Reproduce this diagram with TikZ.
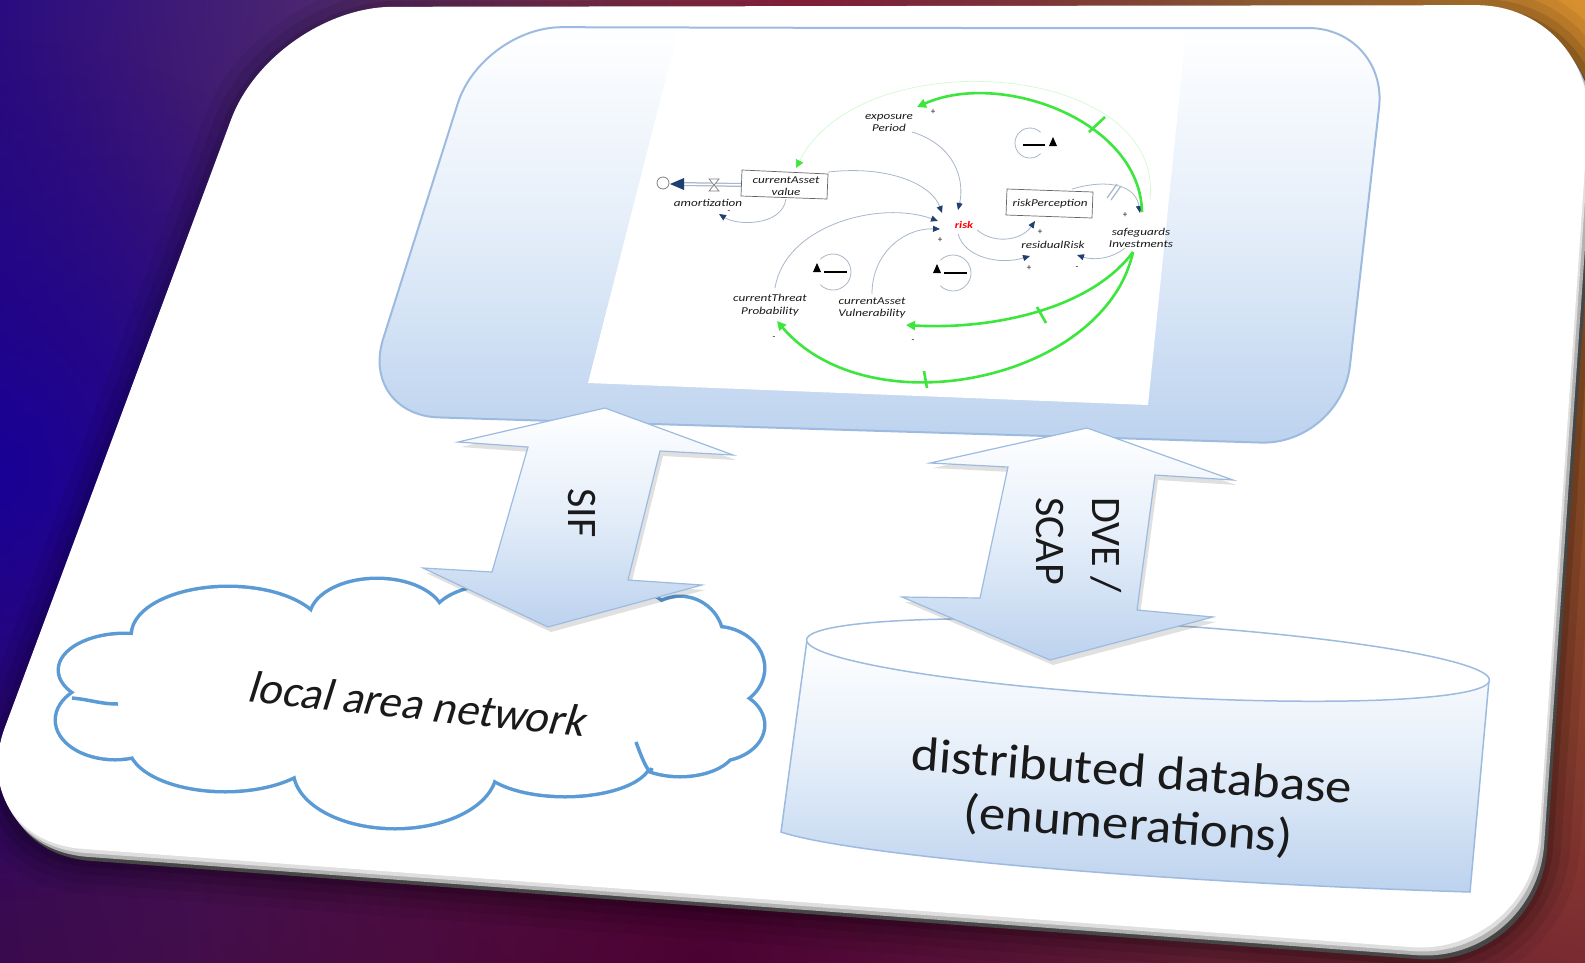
\documentclass[tikz,border=0pt]{standalone}
\usepackage{fontspec}
\setmainfont{Carlito}
\newfontfamily\sdfont[FakeStretch=1.25]{Carlito}
\newfontfamily\dbfont[FakeStretch=1.1]{Carlito}
\newfontfamily\lanfont[FakeSlant=0.2]{Carlito}
\usetikzlibrary{arrows.meta,calc,shadings,fadings}
\tikzfading[name=softglow, inner color=transparent!0, outer color=transparent!100]
\definecolor{bgul}{HTML}{2A0C80}
\definecolor{bgur}{HTML}{D8902E}
\definecolor{bgll}{HTML}{3A0A4E}
\definecolor{bglr}{HTML}{7A2A30}
\definecolor{glowblue}{HTML}{16009C}
\definecolor{glowred}{HTML}{A8284A}
\definecolor{glowmaroon}{HTML}{4A0032}
\definecolor{edgeblue}{HTML}{9DBBE0}
\definecolor{fillblue}{HTML}{BCD2EE}
\definecolor{midblue}{HTML}{E3EDF9}
\definecolor{cloudblue}{HTML}{5B9BD5}
\definecolor{sdgrey}{HTML}{A8B8CA}
\definecolor{sdhead}{HTML}{1F3F70}
\definecolor{sdgreen}{HTML}{3CE63C}
\definecolor{txt}{HTML}{1A1A1A}
\newcommand{\boardshape}{(900,6) [rounded corners=120] -- (1596,5) -- (1531,956) -- (-37,840) -- (273,7) -- cycle}
\newcommand{\screenshape}{(900,28) [rounded corners=80] -- (1388,28) -- (1341,445) -- (359,415) -- (482,27) -- cycle}
\newcommand{\cloudlobes}{(228,635) ellipse[x radius=95, y radius=47] (377,618) ellipse[x radius=66, y radius=38] (500,618) ellipse[x radius=66, y radius=32] (610,618) ellipse[x radius=60, y radius=30] (680,640) ellipse[x radius=42, y radius=42] (715,668) ellipse[x radius=48, y radius=40] (715,725) ellipse[x radius=48, y radius=35] (680,745) ellipse[x radius=55, y radius=30] (565,760) ellipse[x radius=85, y radius=35] (395,770) ellipse[x radius=100, y radius=57] (225,745) ellipse[x radius=95, y radius=45] (115,720) ellipse[x radius=58, y radius=38] (125,670) ellipse[x radius=65, y radius=35]}
\tikzset{
  sdlabel/.style={font=\sdfont\itshape\fontsize{10.5}{12.5}\selectfont, text=txt, inner sep=0pt, align=center},
  sdsign/.style={font=\fontsize{9}{9}\selectfont, text=txt, inner sep=0pt},
  sdlink/.style={draw=sdgrey, line width=0.8pt, -{Triangle[width=6pt,length=7pt,fill=sdhead,color=sdhead]}},
  sdloop/.style={draw=sdgrey, line width=0.8pt},
  greenlink/.style={draw=sdgreen, line width=2.6pt, -{Triangle[width=9pt,length=9pt]}},
  tick/.style={draw=sdgreen, line width=2.6pt},
  bigarrow/.style={draw=edgeblue, line width=1.2pt, top color=white, bottom color=fillblue, middle color=midblue},
  arrowtext/.style={font=\fontsize{42}{56}\selectfont, text=txt, inner sep=0pt, align=left, rotate=-90},
}
\begin{document}
\begin{tikzpicture}[x=1pt,y=-1pt]
\useasboundingbox (0,0) rectangle (1585,962);
% background
\shade[upper left=bgul, upper right=bgur, lower left=bgll, lower right=bglr] (0,0) rectangle (1585,962);
\begin{scope}
\clip (0,0) rectangle (1585,962);
\fill[glowblue, path fading=softglow, opacity=0.9] (0,470) circle (430);
\fill[glowred, path fading=softglow, opacity=0.95] (800,0) circle (460);
\fill[glowmaroon, path fading=softglow, opacity=0.9] (700,962) circle (500);
\end{scope}
% board shadow
\foreach \w/\o in {70/0.06,50/0.08,32/0.1,16/0.14}{
  \draw[black, line width=\w pt, opacity=\o, shift={(6,10)}] \boardshape;
}
% board bevel and face
\fill[gray!55!black, shift={(8,12)}] \boardshape;
\fill[gray!60, shift={(5,8)}] \boardshape;
\fill[gray!25, shift={(2,4)}] \boardshape;
\fill[white] \boardshape;
% screen box
\path[draw=edgeblue, line width=2pt, top color=white, bottom color=fillblue, middle color=midblue] \screenshape;
% embedded picture
\fill[white] (678,31) -- (1186,31) -- (1148,405) -- (588,383) -- cycle;

% ===== small system dynamics diagram =====
\draw[sdgreen!25, line width=0.6pt, -{Triangle[width=8pt,length=8pt,color=sdgreen]}] (1150,200) .. controls (1165,60) and (860,40) .. (796,168);
% source cloud and flow
\draw[gray, line width=0.8pt] (663,183) circle (6);
\draw[sdgrey, line width=4pt] (742,185) -- (682,184);
\draw[white, line width=1.5pt] (742,185) -- (682,184);
\fill[sdhead] (670,184) -- (684,178) -- (684,190) -- cycle;
\draw[gray, line width=0.7pt, fill=white] (709,179) -- (719,179) -- (709,191) -- (719,191) -- cycle;
\node[sdlabel] (amort) at (708,203) {amortization};
\node[sdsign] at (729,212) {-};
% currentAsset value box
\draw[gray!80!black, line width=0.7pt, fill=white] (742,170) -- (828,174) -- (827,199) -- (741,196) -- cycle;
\node[sdlabel] (cav) at (786,186) {currentAsset\\value};
% exposure period
\node[sdlabel] (exp) at (889,123) {exposure\\Period};
\node[sdsign] at (933,112) {+};
% risk
\node[font=\sdfont\bfseries\itshape\fontsize{10}{11}\selectfont, text=red, inner sep=1pt] (risk) at (964,225) {risk};
\node[sdsign] at (960,205) {+};
\node[sdsign] at (940,240) {+};
% riskPerception box
\draw[gray!80!black, line width=0.7pt, fill=white] (1007,189) -- (1093,192) -- (1092,218) -- (1006,215) -- cycle;
\node[sdlabel] (rp) at (1050,204) {riskPerception};
\node[sdsign] at (1040,232) {+};
% residualRisk
\node[sdlabel] (rr) at (1053,245) {residualRisk};
\node[sdsign] at (1029,268) {+};
\node[sdsign] at (1077,268) {-};
% safeguards
\node[sdlabel] (sg) at (1141,238) {safeguards\\Investments};
\node[sdsign] at (1125,215) {+};
% threat & vulnerability
\node[sdlabel] (ctp) at (770,305) {currentThreat\\Probability};
\node[sdsign] at (774,338) {-};
\node[sdlabel] (cav2) at (872,308) {currentAsset\\Vulnerability};
\node[sdsign] at (913,341) {-};

% grey links
\draw[sdlink] (786,199) .. controls (782,226) and (738,226) .. (719,214);
\draw[sdlink] (828,172) .. controls (890,165) and (932,185) .. (942,213);
\draw[sdlink] (912,132) .. controls (955,145) and (965,180) .. (958,210);
\draw[sdlink] (775,288) .. controls (785,225) and (880,200) .. (938,221);
\draw[sdlink] (872,294) .. controls (872,252) and (905,228) .. (940,229);
\draw[sdlink] (977,230) .. controls (995,245) and (1022,240) .. (1035,221);
\draw[sdlink] (958,234) .. controls (965,258) and (1000,265) .. (1030,256);
\draw[sdlink] (1125,248) .. controls (1110,260) and (1092,260) .. (1077,255);
\draw[sdlink] (1072,189) .. controls (1110,178) and (1136,186) .. (1140,213);
\draw[sdgrey, line width=1.2pt] (1107,198) -- (1117,184);
\draw[sdgrey, line width=1.2pt] (1111,200) -- (1121,186);

% loop symbols
\draw[sdloop] (1030,143) ++(45:15) arc[start angle=45, end angle=315, radius=15];
\draw[black, line width=1.2pt] (1023,145) -- (1045,145);
\fill[black] (1049,146) -- (1053,137) -- (1057,146) -- cycle;
\draw[sdloop] (833,272) ++(225:18) arc[start angle=225, end angle=495, radius=18];
\draw[black, line width=1.2pt] (824,272) -- (847,272);
\fill[black] (813,272) -- (817,263) -- (821,272) -- cycle;
\draw[sdloop] (953,273) ++(225:18) arc[start angle=225, end angle=495, radius=18];
\draw[black, line width=1.2pt] (944,273) -- (967,273);
\fill[black] (933,273) -- (937,264) -- (941,273) -- cycle;

% green links
\draw[greenlink] (1142,212) .. controls (1140,120) and (1000,70) .. (917,107);
\draw[tick] (1089,132) -- (1105,117);
\draw[greenlink] (1133,252) .. controls (1090,310) and (990,330) .. (906,325);
\draw[tick] (1037,307) -- (1046,323);
\draw[greenlink] (1133,252) .. controls (1105,380) and (870,430) .. (777,321);
\draw[tick] (924,371) -- (927,388);

% ===== cloud =====
\draw[cloudblue, line width=7pt] \cloudlobes;
\fill[white] \cloudlobes;
\fill[white] (228,635) -- (377,618) -- (500,618) -- (610,618) -- (680,640) -- (715,668) -- (715,725) -- (680,745) -- (565,760) -- (395,770) -- (225,745) -- (115,720) -- (125,670) -- cycle;
\draw[cloudblue, line width=3.5pt] (72,698) to[out=-5,in=180] (118,704);
\draw[cloudblue, line width=3.5pt] (652,768) to[out=-100,in=-70] (636,742);
\node[font=\lanfont\fontsize{45}{50}\selectfont, text=txt, rotate=-6, inner sep=0pt] (lan) at (416,704) {local area network};

% ===== SIF arrow =====
\path[fill=black, opacity=0.12, shift={(3,5)}] (605,408) -- (733,455) -- (660,451) -- (628,580) -- (702,585) -- (548,627) -- (423,568) -- (492,572) -- (528,447) -- (458,442) -- cycle;
\path[bigarrow] (605,408) -- (733,455) -- (660,451) -- (628,580) -- (702,585) -- (548,627) -- (423,568) -- (492,572) -- (528,447) -- (458,442) -- cycle;
\node[arrowtext] (sif) at (582,513) {SIF};

% ===== database cylinder =====
\path[draw=edgeblue, line width=1.5pt, top color=white, bottom color=fillblue, middle color=midblue]
  (807,640) -- (781,832) .. controls (850,855) and (1150,882) .. (1470,892) -- (1489,680) -- cycle;
\path[draw=edgeblue, line width=1.5pt, fill=white] (1148,660) ellipse[x radius=342, y radius=36, rotate=-3.4];
\node[font=\dbfont\fontsize{48}{53}\selectfont, text=txt, rotate=-4.4, inner sep=0pt, align=center] (db) at (1130,800) {distributed database\\(enumerations)};

% ===== DVE / SCAP arrow =====
\path[fill=black, opacity=0.12, shift={(3,5)}] (1087,428) -- (1233,480) -- (1155,475) -- (1137,610) -- (1213,617) -- (1050,660) -- (902,597) -- (980,598) -- (1008,467) -- (930,463) -- cycle;
\path[bigarrow] (1087,428) -- (1233,480) -- (1155,475) -- (1137,610) -- (1213,617) -- (1050,660) -- (902,597) -- (980,598) -- (1008,467) -- (930,463) -- cycle;
\node[arrowtext] (dve) at (1079,545) {DVE /\\SCAP};
\end{tikzpicture}
\end{document}
